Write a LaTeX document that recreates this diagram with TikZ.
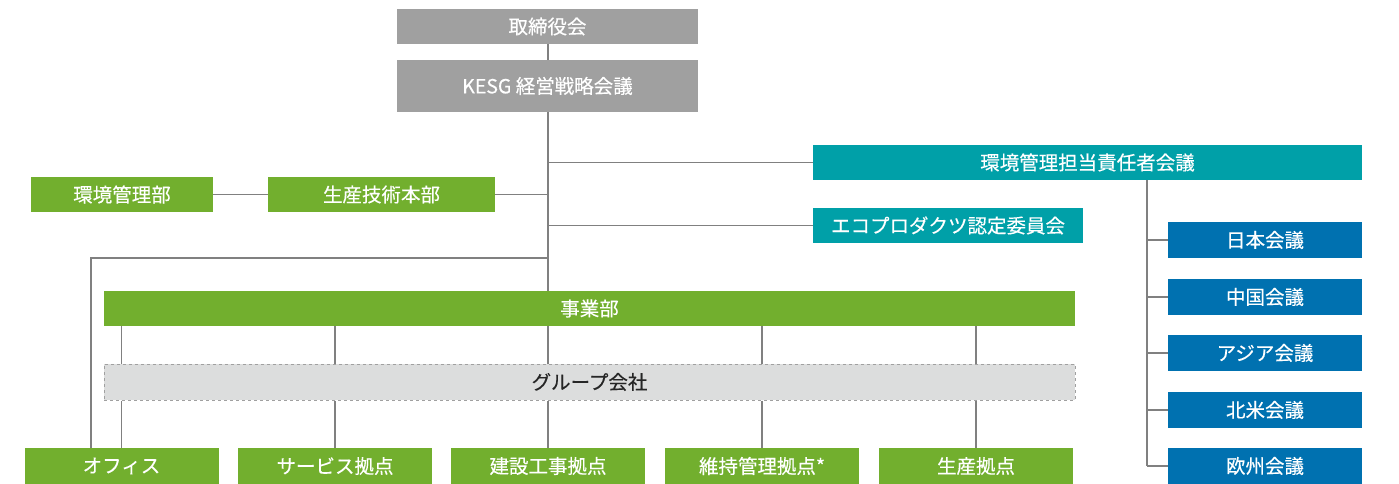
\documentclass[tikz,border=0pt]{standalone}
\usepackage{fontspec}
\setmainfont{Noto Sans CJK JP}
\newfontfamily\boxfont{Noto Sans CJK JP}[FakeBold=0.3]
\definecolor{cgray}{HTML}{A0A0A0}
\definecolor{cteal}{HTML}{00A0A8}
\definecolor{cgreen}{HTML}{72AF2E}
\definecolor{cblue}{HTML}{0071B0}
\definecolor{clight}{HTML}{DCDDDD}
\definecolor{cline}{HTML}{808080}
\begin{document}
\begin{tikzpicture}[x=1pt,y=-1pt,
  box/.style={inner sep=0pt, text=white, minimum height=35pt, font=\boxfont\fontsize{19.5}{21}\selectfont},
  graybox/.style={box, fill=cgray, minimum width=301pt},
  tealbox/.style={box, fill=cteal},
  greenbox/.style={box, fill=cgreen},
  bluebox/.style={box, fill=cblue, minimum width=194pt, minimum height=36pt},
  basebox/.style={greenbox, minimum width=194pt, minimum height=36pt},
  groupbox/.style={box, fill=clight, draw=cgray, dashed, line width=1pt, text=black!85, minimum width=971pt, minimum height=36pt},
  conn/.style={draw=cline, line width=1.6pt}
]
\useasboundingbox (0,0) rectangle (1399,484);
% nodes
\node[graybox] (top) at (547.5,26.5) {取締役会};
\node[graybox, minimum height=52pt] (kesg) at (547.5,86) {KESG 経営戦略会議};
\node[tealbox, minimum width=549pt] (env) at (1087.5,162.5) {環境管理担当責任者会議};
\node[tealbox, minimum width=270pt] (eco) at (948,225.5) {エコプロダクツ認定委員会};
\node[greenbox, minimum width=182pt] (kanri) at (122,194.5) {環境管理部};
\node[greenbox, minimum width=227pt] (gijutsu) at (381.5,194.5) {生産技術本部};
\node[greenbox, minimum width=971pt] (jigyo) at (589.5,308.5) {事業部};
\node[groupbox] (group) at (589.5,382) {グループ会社};
\node[basebox] (office) at (121.5,466) {オフィス};
\node[basebox] (service) at (335,466) {サービス拠点};
\node[basebox] (kensetsu) at (548,466) {建設工事拠点};
\node[basebox] (iji) at (762,466) {維持管理拠点*};
\node[basebox] (seisan) at (976,466) {生産拠点};
\node[bluebox] (japan) at (1265,240) {日本会議};
\node[bluebox] (china) at (1265,297) {中国会議};
\node[bluebox] (asia) at (1265,353) {アジア会議};
\node[bluebox] (na) at (1265,410) {北米会議};
\node[bluebox] (eu) at (1265,466) {欧州会議};
% helper coordinates
\coordinate (tr) at (548,0);
\coordinate (rb) at (1147,0);
\coordinate (ol) at (91,258);
% connectors
\draw[conn] (top.south -| tr) -- (kesg.north -| tr);
\draw[conn] (kesg.south -| tr) -- (jigyo.north -| tr);
\draw[conn] (gijutsu.east) -- (gijutsu.east -| tr);
\draw[conn] (kanri.east) -- (gijutsu.west);
\draw[conn] (env.west -| tr) -- (env.west);
\draw[conn] (eco.west -| tr) -- (eco.west);
\draw[conn] (ol -| tr) -- (ol) -- (office.north -| ol);
\foreach \b in {office,service,kensetsu,iji,seisan}{
  \draw[conn] (jigyo.south -| \b) -- (group.north -| \b);
  \draw[conn] (group.south -| \b) -- (\b.north);
}
\draw[conn] (env.south -| rb) -- (eu.west -| rb);
\foreach \b in {japan,china,asia,na,eu}{
  \draw[conn] (\b.west -| rb) -- (\b.west);
}
\end{tikzpicture}
\end{document}
